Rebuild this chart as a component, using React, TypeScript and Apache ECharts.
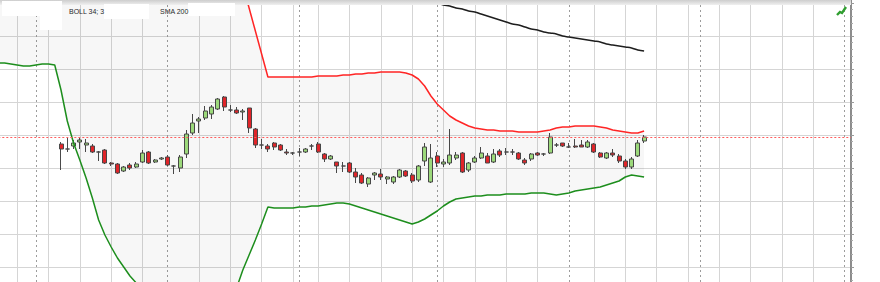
import React, { useEffect, useRef } from "react";
import * as echarts from "echarts";

// candle index of the first category slot (slots before the first candle)
const FIRST_SLOT = -10;
const LAST_SLOT = 126;
const categories: string[] = Array.from(
  { length: LAST_SLOT - FIRST_SLOT + 1 },
  (_, k) => String(k + FIRST_SLOT)
);

// OHLC, candles 0..93
const openPrices = [
  486, 481, 484, 488, 485, 484, 478, 480, 467, 466,
  459, 465, 463, 468, 478, 468, 471, 473, 464, 462,
  476, 497, 509, 512, 516, 521, 533, 520, 520, 518,
  522, 501, 485, 484, 487, 485, 478, 477, 478, 478,
  484, 486, 476, 471, 468, 464, 467, 458, 455, 446,
  455, 456, 451, 448, 453, 459, 455, 450, 469, 448,
  474, 466, 467, 472, 477, 460, 468, 472, 474, 468,
  479, 478, 478, 477, 470, 471, 477, 476, 477, 485,
  487, 483, 484, 485, 483, 486, 477, 472, 477, 474,
  469, 463, 474, 489,
];
const closePrices = [
  481, 481, 487, 490, 487, 478, 478, 467, 466, 457,
  463, 462, 466, 477, 467, 470, 472, 465, 464, 473,
  496, 507, 511, 519, 523, 531, 523, 520, 517, 519,
  502, 485, 485, 481, 483, 480, 477, 477, 478, 481,
  484, 478, 471, 474, 464, 464, 458, 453, 447, 452,
  457, 453, 453, 453, 460, 454, 449, 464, 483, 472,
  467, 468, 475, 475, 458, 467, 472, 477, 467, 476,
  475, 478, 478, 471, 467, 476, 475, 476, 493, 485,
  484, 483, 483, 483, 488, 478, 473, 477, 475, 469,
  463, 471, 487, 493,
];
const lowPrices = [
  460, 478, 481, 481, 478, 477, 469, 466, 464, 456,
  458, 460, 462, 467, 466, 467, 470, 464, 456, 458,
  472, 495, 497, 510, 511, 520, 519, 518, 516, 510,
  497, 482, 481, 478, 480, 479, 475, 475, 474, 477,
  480, 477, 468, 470, 457, 458, 457, 447, 446, 443,
  450, 450, 446, 446, 452, 453, 447, 448, 464, 447,
  463, 463, 465, 470, 457, 458, 467, 471, 467, 467,
  473, 475, 475, 470, 465, 469, 474, 474, 476, 483,
  483, 482, 482, 483, 482, 477, 472, 471, 473, 467,
  461, 461, 473, 487,
];
const highPrices = [
  488, 493, 490, 493, 491, 486, 479, 481, 468, 467,
  464, 467, 468, 480, 479, 471, 473, 475, 465, 475,
  500, 516, 513, 524, 525, 532, 534, 525, 523, 521,
  522, 502, 491, 486, 488, 486, 481, 478, 482, 482,
  486, 488, 477, 475, 468, 468, 468, 462, 457, 453,
  458, 461, 454, 454, 461, 460, 457, 465, 487, 486,
  478, 471, 501, 478, 478, 468, 474, 483, 477, 481,
  481, 482, 481, 478, 472, 477, 478, 477, 497, 487,
  487, 487, 491, 490, 490, 487, 478, 478, 481, 476,
  471, 473, 490, 495,
];

// Bollinger (34; 3) bands, slots -10..93
const upperBand = [
  735, 736, 734, 733, 735, 737, 736, 735, 734, 733,
  760, 790, 810, 830, 850, 868, 880, 890, 896, 900,
  902, 903, 903, 902, 899, 895, 889, 881, 871, 858,
  842, 823, 801, 777, 752, 735, 715, 691, 668, 645,
  622, 599, 576, 553, 553, 553, 553, 553, 553, 553,
  553, 554, 554, 554, 554, 555, 555, 556, 556, 557,
  557, 558, 558, 558, 558, 557, 555, 551, 544, 534,
  526, 520, 514, 510, 507, 504, 502, 501, 500, 500,
  499, 499, 499, 498, 498, 498, 498, 499, 500, 502,
  503, 503, 504, 504, 504, 504, 503, 502, 500, 499,
  498, 497, 497, 499,
];
const lowerBand = [
  567, 567, 566, 565, 564, 564, 565, 566, 566, 565,
  540, 509, 487, 470, 452, 432, 410, 395, 383, 372,
  363, 354, 347, 340, 333, 327, 321, 316, 312, 308,
  305, 303, 302, 303, 306, 312, 320, 330, 342, 360,
  375, 390, 406, 423, 422, 422, 422, 422, 423, 423,
  424, 424, 425, 426, 427, 427, 426, 424, 422, 420,
  418, 416, 414, 412, 410, 408, 406, 408, 411, 415,
  419, 424, 428, 431, 432, 433, 434, 434, 435, 435,
  435, 436, 436, 436, 436, 437, 437, 437, 436, 435,
  436, 437, 439, 440, 441, 442, 443, 445, 447, 449,
  453, 455, 454, 453,
];

// SMA 200, candles 52..93
const sma200Start = 52;
const sma200 = [
  640, 638, 636, 634, 632, 630, 629, 628, 627, 625,
  624, 622, 621, 619, 618, 616, 614, 612, 610, 608,
  606, 605, 603, 601, 600, 598, 597, 596, 594, 593,
  592, 591, 590, 589, 588, 586, 585, 584, 583, 582,
  580, 579,
];

// vertical grid (candle indices)
const solidGridCandles = [-7, -2, 3, 8, 13, 22, 27, 32, 37, 41, 46, 51, 56, 61, 66, 71, 76, 85, 90, 95, 100, 105, 110, 115, 120];
const dayBreakCandles = [-4, 17, 38, 60, 81, 102, 125];

export default function App() {
  const ref = useRef<HTMLDivElement>(null);

  useEffect(() => {
    document.body.style.margin = "0";
    const chart = echarts.init(ref.current as HTMLDivElement, undefined, { renderer: "svg" });

    const pad = -FIRST_SLOT;
    const candleData: any[] = [];
    for (let k = 0; k < pad; k++) candleData.push(["-", "-", "-", "-"]);
    openPrices.forEach((o, i) => candleData.push([o, closePrices[i], lowPrices[i], highPrices[i]]));

    const bandDiff = upperBand.map((u, i) => u - lowerBand[i]);
    const smaData = categories.map((_, k) => {
      const j = k + FIRST_SLOT - sma200Start;
      return j >= 0 && j < sma200.length ? sma200[j] : "-";
    });
    const solidSet = new Set(solidGridCandles.map((i) => i - FIRST_SLOT));
    const dottedSet = new Set(dayBreakCandles.map((i) => i - FIRST_SLOT));
    const lastClose = closePrices[closePrices.length - 1];

    const hiddenCat = {
      type: "category",
      data: categories,
      boundaryGap: false,
      axisLine: { show: false },
      axisTick: { show: false },
      axisLabel: { show: false },
    };

    chart.setOption({
      animation: false,
      backgroundColor: "#ffffff",
      grid: {
        left: -1.69,
        right: 29,
        top: -30,
        bottom: -18,
        containLabel: false,
        outerBoundsMode: "none",
      },
      xAxis: [
        {
          ...hiddenCat,
          position: "bottom",
          splitLine: {
            show: true,
            interval: (idx: number) => solidSet.has(idx),
            lineStyle: { color: "#d5d5d5", width: 1 },
          },
        },
        {
          ...hiddenCat,
          position: "top",
          splitLine: {
            show: true,
            interval: (idx: number) => dottedSet.has(idx),
            lineStyle: { color: "#9c9c9c", width: 1, type: [2, 3] },
          },
        },
      ],
      yAxis: {
        type: "value",
        position: "right",
        min: 330,
        max: 660,
        interval: 33,
        axisLine: { show: true, lineStyle: { color: "#8c8c8c", width: 2 } },
        axisTick: { show: true, length: 3, lineStyle: { color: "#9a9a9a" } },
        minorTick: { show: true, splitNumber: 5, length: 2, lineStyle: { color: "#aaaaaa" } },
        axisLabel: { show: false },
        splitLine: { show: true, lineStyle: { color: "#d5d5d5", width: 1 } },
      },
      series: [
        {
          type: "line",
          name: "bandBase",
          data: lowerBand,
          stack: "boll",
          stackStrategy: "all",
          symbol: "none",
          silent: true,
          lineStyle: { opacity: 0 },
        },
        {
          type: "line",
          name: "bandFill",
          data: bandDiff,
          stack: "boll",
          stackStrategy: "all",
          symbol: "none",
          silent: true,
          lineStyle: { opacity: 0 },
          areaStyle: { color: "rgba(0,0,0,0.045)" },
        },
        {
          type: "line",
          name: "BOLL upper",
          data: upperBand,
          symbol: "none",
          silent: true,
          lineStyle: { color: "#ff2525", width: 1.5 },
        },
        {
          type: "line",
          name: "BOLL lower",
          data: lowerBand,
          symbol: "none",
          silent: true,
          lineStyle: { color: "#1d8e1d", width: 1.5 },
        },
        {
          type: "line",
          name: "SMA 200",
          data: smaData,
          symbol: "none",
          smooth: 0.4,
          silent: true,
          lineStyle: { color: "#1e1e1e", width: 1.6 },
        },
        {
          type: "candlestick",
          name: "price",
          data: candleData,
          barWidth: 4.5,
          itemStyle: {
            color: "#a2e07f",
            color0: "#e8262b",
            borderColor: "#4a4a4a",
            borderColor0: "#4a4a4a",
            borderWidth: 1,
          },
          markLine: {
            silent: true,
            symbol: "none",
            label: { show: false },
            lineStyle: { color: "#ff5c5c", width: 1, type: [2, 2] },
            data: [{ yAxis: lastClose }],
          },
        },
      ],
      graphic: [
        {
          type: "rect",
          shape: { x: 0, y: 0, width: 851, height: 5 },
          style: {
            fill: new echarts.graphic.LinearGradient(0, 0, 0, 1, [
              { offset: 0, color: "#cdcdcd" },
              { offset: 1, color: "#f0f0f0" },
            ]),
          },
          z: 100,
        },
        { type: "rect", shape: { x: 2, y: 1, width: 60, height: 15 }, style: { fill: "#ffffff" }, z: 101 },
        { type: "rect", shape: { x: 40, y: 15, width: 22, height: 15 }, style: { fill: "#ffffff" }, z: 101 },
        { type: "rect", shape: { x: 104, y: 4, width: 45, height: 15 }, style: { fill: "#ffffff" }, z: 101 },
        { type: "rect", shape: { x: 188, y: 3, width: 47, height: 13 }, style: { fill: "#ffffff" }, z: 101 },
        {
          type: "text",
          x: 69,
          y: 11,
          style: { text: "BOLL 34; 3", fill: "#2a2a2a", fontSize: 7, fontFamily: "Liberation Sans", verticalAlign: "middle" },
          z: 102,
        },
        {
          type: "text",
          x: 160,
          y: 11,
          style: { text: "SMA 200", fill: "#2a2a2a", fontSize: 7, fontFamily: "Liberation Sans", verticalAlign: "middle" },
          z: 102,
        },
        {
          type: "polyline",
          shape: { points: [[837, 15], [840, 12], [842, 13], [846, 7]] },
          style: { stroke: "#2f9e2f", lineWidth: 2.4, fill: "none" },
          z: 102,
        },
      ],
    });

    return () => chart.dispose();
  }, []);

  return <div ref={ref} style={{ width: 880, height: 282 }} />;
}
